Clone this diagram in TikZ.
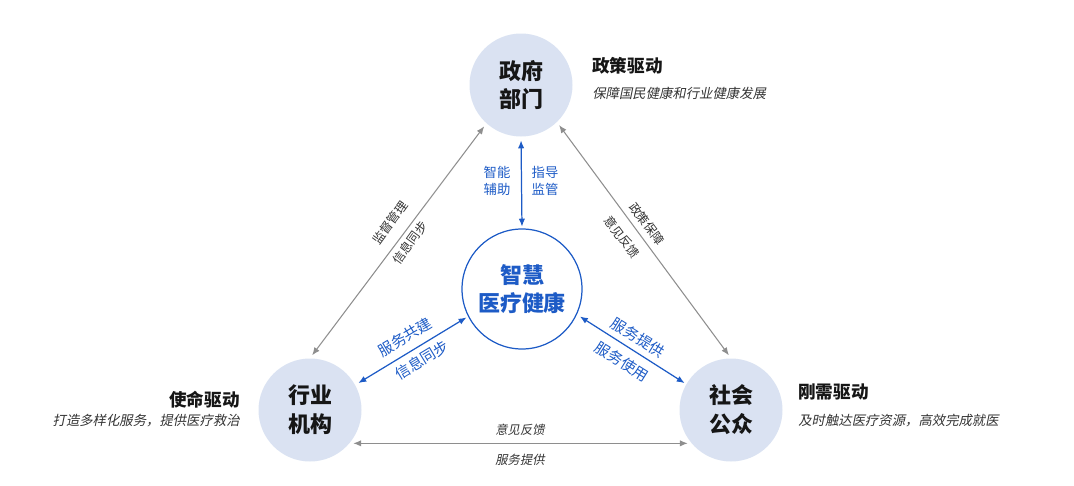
\documentclass[tikz,border=0pt]{standalone}
\usepackage{fontspec}
\setmainfont{Noto Sans CJK SC}[AutoFakeSlant=0.2]
\usetikzlibrary{arrows.meta}
\definecolor{partyfill}{HTML}{DAE2F2}
\definecolor{hubblue}{HTML}{1D5BC6}
\definecolor{flowgray}{HTML}{8E8E8E}
\definecolor{txtdark}{HTML}{161616}
\definecolor{txtgray}{HTML}{333333}

\begin{document}
\begin{tikzpicture}[
  >={Latex[length=4.5pt,width=3.6pt]},
  every node/.style={inner sep=0pt, text=txtdark},
  party/.style={circle, fill=partyfill, minimum size=2.06cm, align=center, font=\bfseries\fontsize{12.5}{16.4}\selectfont},
  hub/.style={circle, draw=hubblue, line width=0.7pt, fill=white, minimum size=2.4cm, align=center, text=hubblue, font=\bfseries\itshape\fontsize{12.5}{16}\selectfont},
  flow/.style={<->, draw=flowgray, line width=0.6pt, shorten <=2pt, shorten >=2pt},
  link/.style={<->, draw=hubblue, line width=0.7pt, shorten <=2pt, shorten >=1pt},
  drive/.style={font=\bfseries\itshape\fontsize{10}{12}\selectfont},
  note/.style={font=\itshape\fontsize{7.6}{9}\selectfont, text=txtgray},
  tag/.style={font=\fontsize{7}{9}\selectfont, text=txtgray},
  btag/.style={font=\fontsize{8.5}{10}\selectfont, text=hubblue},
  vtag/.style={align=center, font=\fontsize{7.6}{9.6}\selectfont, text=hubblue}
]
\useasboundingbox (0,0) rectangle (21.48,-9.70);

% four circles
\node[party] (gov) at (10.42,-1.70) {政府\\部门};
\node[party] (inst) at (6.20,-8.20) {行业\\机构};
\node[party] (pub) at (14.62,-8.20) {社会\\公众};
\node[hub] (hub) at (10.44,-5.78) {智慧\\医疗健康};

% outer connectors
\draw[flow] (gov.-132) -- (inst.north);
\draw[flow] (gov.-46) -- (pub.north);
\draw[flow] (inst.-40) -- (pub.-140);

% inner connectors
\draw[link] (gov.south) -- (hub.north);
\draw[link] (inst.29) -- (hub.207);
\draw[link] (hub.-25) -- (pub.150);

% connector labels
\node[vtag] (assist) at (9.94,-3.62) {智能\\辅助};
\node[vtag] (guide) at (10.90,-3.62) {指导\\监管};
\node[tag, rotate=54] (supv) at (7.80,-4.46) {监督管理};
\node[tag, rotate=54] (syncl) at (8.20,-4.86) {信息同步};
\node[tag, rotate=-53] (policy) at (12.94,-4.48) {政策保障};
\node[tag, rotate=-53] (fbr) at (12.44,-4.74) {意见反馈};
\node[tag, font=\itshape\fontsize{7}{9}\selectfont] (fbb) at (10.40,-8.60) {意见反馈};
\node[tag, font=\itshape\fontsize{7}{9}\selectfont] (srvb) at (10.40,-9.20) {服务提供};
\node[btag, rotate=31] (build) at (8.10,-6.74) {服务共建};
\node[btag, rotate=31] (syncb) at (8.44,-7.20) {信息同步};
\node[btag, rotate=-32] (offer) at (12.76,-6.76) {服务提供};
\node[btag, rotate=-32] (usage) at (12.44,-7.24) {服务使用};

% side texts
\node[drive, anchor=west] (govd) at (11.84,-1.32) {政策驱动};
\node[note, anchor=west] (govn) at (11.84,-1.86) {保障国民健康和行业健康发展};
\node[drive, anchor=east] (instd) at (4.80,-8.00) {使命驱动};
\node[note, anchor=east] (instn) at (4.80,-8.42) {打造多样化服务，提供医疗救治};
\node[drive, anchor=west] (pubd) at (15.96,-7.84) {刚需驱动};
\node[note, anchor=west] (pubn) at (15.96,-8.42) {及时触达医疗资源，高效完成就医};
\end{tikzpicture}
\end{document}
